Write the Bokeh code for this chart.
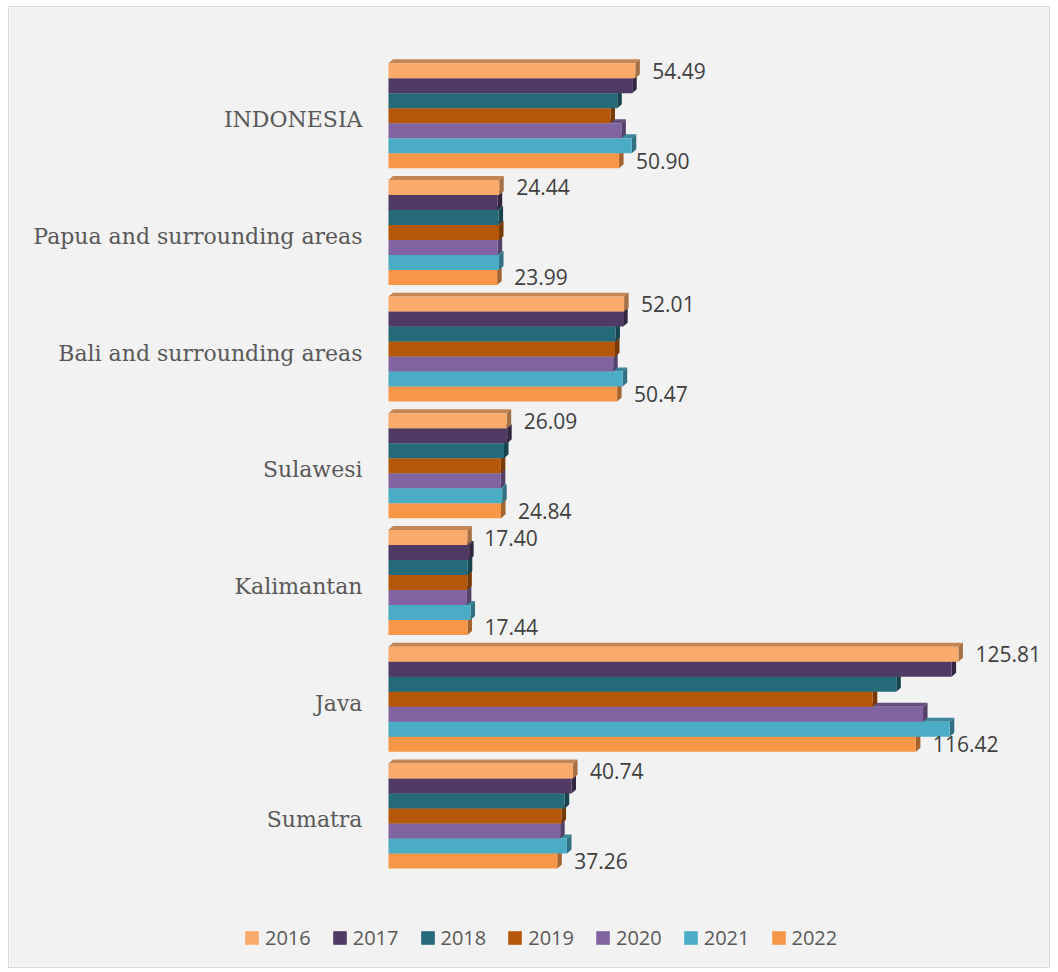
from bokeh.plotting import figure
from bokeh.models import ColumnDataSource, Legend, LegendItem, Range1d
from bokeh.core.properties import value
from bokeh.embed import file_html
from bokeh.resources import INLINE

regions = ["INDONESIA", "Papua and surrounding areas", "Bali and surrounding areas",
           "Sulawesi", "Kalimantan", "Java", "Sumatra"]
years = ["2016", "2017", "2018", "2019", "2020", "2021", "2022"]

v2016 = [54.49, 24.44, 52.01, 26.09, 17.40, 125.81, 40.74]
v2017 = [53.8, 24.1, 51.8, 26.2, 17.8, 124.3, 40.4]
v2018 = [50.5, 24.3, 50.1, 25.5, 17.5, 112.1, 38.9]
v2019 = [49.0, 24.4, 50.0, 24.8, 17.4, 106.9, 38.2]
v2020 = [51.4, 24.1, 49.6, 24.8, 17.3, 118.0, 37.9]
v2021 = [53.7, 24.4, 51.7, 25.1, 18.1, 123.9, 39.4]
v2022 = [50.90, 23.99, 50.47, 24.84, 17.44, 116.42, 37.26]
series = [v2016, v2017, v2018, v2019, v2020, v2021, v2022]

colors = ["#FAAB6B", "#4E3A63", "#246A79", "#B55708", "#8064A2", "#4BACC6", "#F79646"]


def shade(hex_color, f):
    h = hex_color.lstrip("#")
    r, g, b = (int(h[i:i + 2], 16) for i in (0, 2, 4))
    return "#%02x%02x%02x" % (int(r * f), int(g * f), int(b * f))


n_reg = len(regions)
bh = 0.1285          # bar thickness in group units
dx = 1.0             # 3D depth (x units)
dy = 0.034           # 3D depth (y units)

p = figure(width=1042, height=962, output_backend="svg", toolbar_location=None,
           x_range=Range1d(-83.66, 146.36), y_range=Range1d(-1.316, 6.927),
           min_border=0)
p.margin = (6, 8, 4, 8)
p.styles = {"border": "1px solid #d9d9d9"}
p.background_fill_color = "#f2f2f2"
p.border_fill_color = "#f2f2f2"
p.outline_line_color = None
p.xgrid.visible = False
p.ygrid.visible = False
p.xaxis.visible = False
p.yaxis.visible = False

centers = [n_reg - 1 - i for i in range(n_reg)]

legend_items = []
# draw bottom series first so upper bars cover lower top faces
for s in reversed(range(len(years))):
    vals = series[s]
    ys = [c + (3 - s) * bh for c in centers]
    top_xs, top_ys, side_xs, side_ys = [], [], [], []
    for v, y in zip(vals, ys):
        yt = y + bh / 2
        yb = y - bh / 2
        top_xs.append([0, v, v + dx, dx])
        top_ys.append([yt, yt, yt + dy, yt + dy])
        side_xs.append([v, v + dx, v + dx, v])
        side_ys.append([yb, yb + dy, yt + dy, yt])
    p.patches(top_xs, top_ys, fill_color=shade(colors[s], 0.78), line_color=None)
    p.patches(side_xs, side_ys, fill_color=shade(colors[s], 0.66), line_color=None)
    src = ColumnDataSource(dict(y=ys, right=vals))
    r = p.hbar(y="y", right="right", left=0, height=bh, source=src,
               fill_color=colors[s], line_color=None)
    legend_items.insert(0, LegendItem(label=years[s], renderers=[r]))

# category labels
csrc = ColumnDataSource(dict(x=[0] * n_reg, y=centers, t=regions))
p.text(x="x", y="y", text="t", source=csrc, x_offset=-26, y_offset=4,
       text_font=value("DejaVu Serif"), text_font_size="22px", text_color="#595959",
       text_baseline="middle", text_align="right")

# data labels for first and last series
lab_y, lab_x, lab_t = [], [], []
for s in (0, len(years) - 1):
    for i, v in enumerate(series[s]):
        lab_y.append(centers[i] + (3 - s) * bh)
        lab_x.append(v)
        lab_t.append(f"{v:.2f}")
lsrc = ColumnDataSource(dict(x=lab_x, y=lab_y, t=lab_t))
p.text(x="x", y="y", text="t", x_offset=17, source=lsrc,
       text_font=value("Open Sans"), text_font_size="21px", text_color="#404040",
       text_baseline="middle", text_align="left")

legend = Legend(items=legend_items, orientation="horizontal", location=(234, 18))
legend.glyph_width = 17
legend.glyph_height = 17
legend.label_standoff = 5
legend.spacing = 20
legend.padding = 0
legend.margin = 0
legend.border_line_color = None
legend.background_fill_alpha = 0
legend.label_text_font = "Open Sans"
legend.label_text_font_size = "20px"
legend.label_text_color = "#595959"
legend.label_height = 20
p.add_layout(legend, "center")

open("out.html", "w").write(file_html(p, INLINE))
